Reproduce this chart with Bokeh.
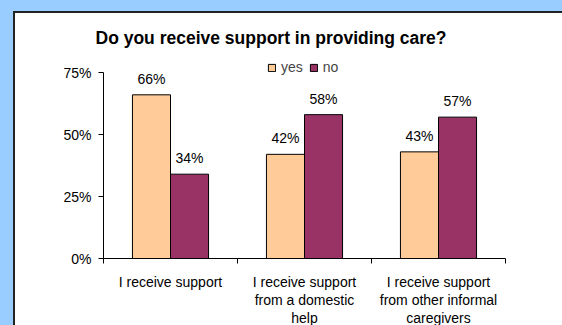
from bokeh.plotting import figure
from bokeh.layouts import column
from bokeh.models import (ColumnDataSource, FixedTicker, LabelSet, Legend, LegendItem)
from bokeh.core.properties import value
from bokeh.embed import file_html
from bokeh.resources import INLINE

categories = ["I receive support", "I receive support\nfrom a domestic\nhelp",
              "I receive support\nfrom other informal\ncaregivers"]
yes_vals = [0.66, 0.42, 0.43]
no_vals = [0.34, 0.58, 0.57]
yes_labels = ["66%", "42%", "43%"]
no_labels = ["34%", "58%", "57%"]
y_ticks = [0, 0.25, 0.5, 0.75]
y_tick_labels = ["0%", "25%", "50%", "75%"]
title_text = "Do you receive support in providing care?"

FONT = "Liberation Sans"
YES_C = "#FFCC99"
NO_C = "#993366"

# geometry (page pixels)
PANEL_L, PANEL_T, BORDER = 13, 11, 2
CANVAS_L, CANVAS_T = PANEL_L + BORDER, PANEL_T + BORDER
FRAME_L, AXIS_R, FRAME_B = 103, 505, 258
FRAME_T = 50
AXIS_TOP = 72
CAT_W = (AXIS_R - FRAME_L) / len(categories)
frame_h = FRAME_B - FRAME_T
frame_w = 562 - FRAME_L
y_top = 0.75 * frame_h / (FRAME_B - AXIS_TOP)
x_end = len(categories) - 0.5 + (562 - AXIS_R) / CAT_W

xs = list(range(len(categories)))
bw = 0.284
src_yes = ColumnDataSource(dict(x=[x - bw / 2 for x in xs], top=yes_vals, lab=yes_labels))
src_no = ColumnDataSource(dict(x=[x + bw / 2 for x in xs], top=no_vals, lab=no_labels))

p = figure(width=562 - CANVAS_L, height=325 - CANVAS_T, output_backend="svg",
           toolbar_location=None,
           x_range=(-0.5, x_end), y_range=(0, y_top),
           frame_width=frame_w, frame_height=frame_h,
           min_border_left=FRAME_L - CANVAS_L, min_border_right=0,
           min_border_top=FRAME_T - CANVAS_T, min_border_bottom=325 - FRAME_B,
           margin=0)
p.border_fill_color = "white"
p.background_fill_color = "white"
p.outline_line_color = None
p.grid.visible = False

p.title.text = title_text
p.title.align = "left"
p.title.offset = -8
p.title.standoff = 6
p.title.text_font = FONT
p.title.text_font_size = "17.5px"
p.title.text_font_style = "bold"
p.title.text_color = "black"

r_yes = p.vbar(x="x", top="top", width=bw, source=src_yes, fill_color=YES_C,
               line_color="black", line_width=1)
r_no = p.vbar(x="x", top="top", width=bw, source=src_no, fill_color=NO_C,
              line_color="black", line_width=1)

for s in (src_yes, src_no):
    p.add_layout(LabelSet(x="x", y="top", text="lab", source=s, y_offset=8,
                          text_align="center", text_baseline="bottom",
                          text_font=value(FONT), text_font_size=value("14px"),
                          text_color="black"))

# axes
p.xaxis.ticker = FixedTicker(ticks=xs, minor_ticks=[-0.5 + i for i in range(len(categories) + 1)])
p.xaxis.bounds = (-0.5, len(categories) - 0.5)
p.xaxis.major_label_overrides = {i: c for i, c in enumerate(categories)}
p.xaxis.major_tick_out = 0
p.xaxis.major_tick_in = 0
p.xaxis.minor_tick_out = 5
p.xaxis.minor_tick_in = 0
p.xaxis.major_label_standoff = 10
p.xaxis.major_label_text_font = FONT
p.xaxis.major_label_text_font_size = "14px"
p.xaxis.major_label_text_line_height = 1.13
p.xaxis.major_label_text_color = "black"

p.yaxis.ticker = FixedTicker(ticks=y_ticks, minor_ticks=[])
p.yaxis.bounds = (0, 0.75)
p.yaxis.major_label_overrides = {t: l for t, l in zip(y_ticks, y_tick_labels)}
p.yaxis.major_tick_out = 5
p.yaxis.major_tick_in = 0
p.yaxis.major_label_standoff = 7
p.yaxis.major_label_text_font = FONT
p.yaxis.major_label_text_font_size = "14px"
p.yaxis.major_label_text_color = "black"

for ax in (p.xaxis, p.yaxis):
    ax.axis_line_color = "black"
    ax.major_tick_line_color = "black"
    ax.minor_tick_line_color = "black"

legend = Legend(items=[LegendItem(label="yes", renderers=[r_yes]),
                       LegendItem(label="no", renderers=[r_no])],
                location=(164, 183), orientation="horizontal",
                glyph_width=9, glyph_height=9, label_standoff=5, spacing=6,
                padding=0, margin=0, border_line_color=None, background_fill_alpha=0,
                label_text_font=FONT, label_text_font_size="14px", label_height=14)
p.add_layout(legend, "center")

inner = column(p, margin=(BORDER, 0, 0, BORDER), styles={"background-color": "white"})
mid = column(inner, margin=(PANEL_T, 0, 0, PANEL_L), styles={"background-color": "#222222"})
page = column(mid, width=562, height=325, margin=0,
              styles={"background-color": "#99CCFF"})

open("out.html", "w").write(file_html(page, INLINE))
